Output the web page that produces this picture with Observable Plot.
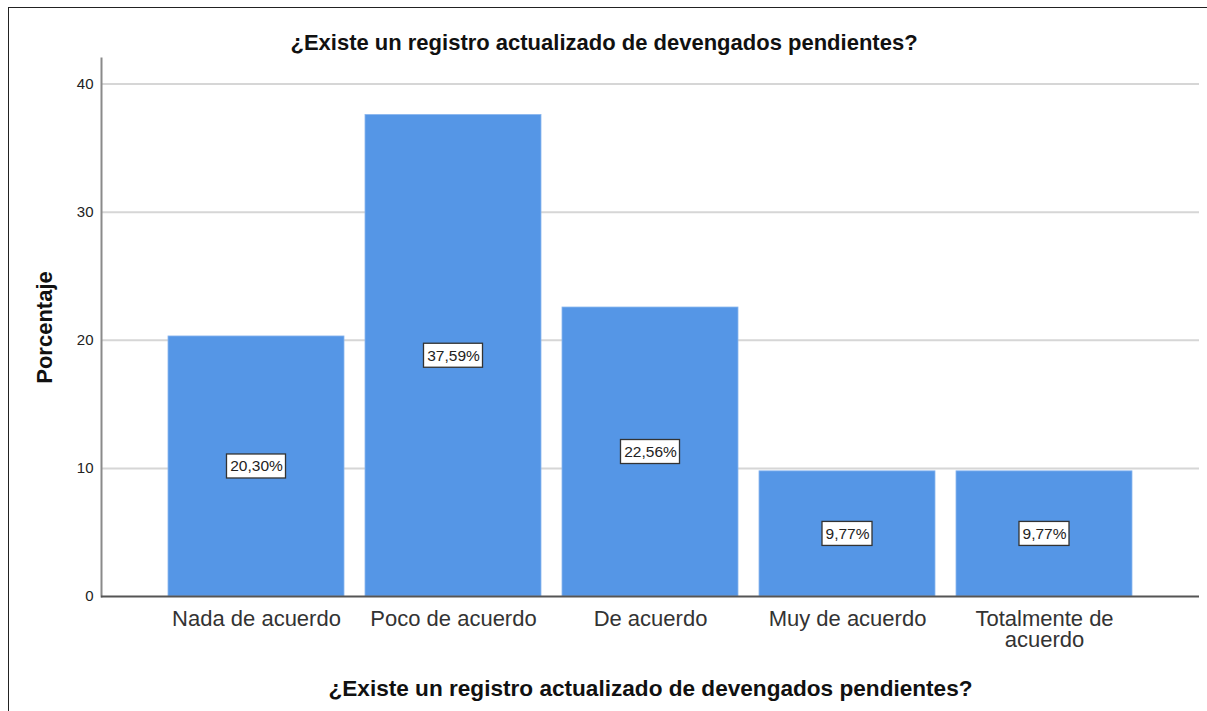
<!DOCTYPE html>
<html>
<head>
<meta charset="utf-8">
<script src="https://cdn.jsdelivr.net/npm/d3@7"></script>
<script src="https://cdn.jsdelivr.net/npm/@observablehq/plot@0.6"></script>
<style>
  html, body { margin: 0; padding: 0; background: #fff; overflow: hidden; }
  #wrap { position: relative; width: 1207px; height: 711px; overflow: hidden; }
  #border { position: absolute; left: 8px; top: 7px; width: 1300px; height: 800px;
            border-left: 1px solid #222; border-top: 1px solid #222; }
  #chart { position: absolute; left: 0; top: 0; }
</style>
</head>
<body>
<div id="wrap"><div id="border"></div><div id="chart"></div></div>
<script>
const chartTitle = "¿Existe un registro actualizado de devengados pendientes?";
const xAxisTitle = "¿Existe un registro actualizado de devengados pendientes?";
const yAxisTitle = "Porcentaje";
const categories = ["Nada de acuerdo", "Poco de acuerdo", "De acuerdo", "Muy de acuerdo", "Totalmente de acuerdo"];
const tickLabels = ["Nada de acuerdo", "Poco de acuerdo", "De acuerdo", "Muy de acuerdo", "Totalmente de\nacuerdo"];
const percentages = [20.30, 37.59, 22.56, 9.77, 9.77];
const valueLabels = ["20,30%", "37,59%", "22,56%", "9,77%", "9,77%"];
const yTicks = [0, 10, 20, 30, 40];

const data = categories.map((c, i) => ({cat: c, v: percentages[i], label: valueLabels[i]}));
const tickMap = new Map(categories.map((c, i) => [c, tickLabels[i]]));
const font = "'Liberation Sans', Arial, sans-serif";

const boxMark = (filterFn, inset) => Plot.barY(data.filter(filterFn), {
  x: "cat", y1: d => d.v / 2, y2: d => d.v / 2,
  insetTop: -12, insetBottom: -12, insetLeft: inset, insetRight: inset,
  fill: "white", stroke: "#333", strokeWidth: 1.3
});

const chart = Plot.plot({
  width: 1207,
  height: 711,
  marginLeft: 101,
  marginRight: 8,
  marginTop: 58,
  marginBottom: 115,
  style: {fontFamily: font, background: "transparent", overflow: "visible"},
  x: {type: "band", domain: categories, paddingInner: 0.106, paddingOuter: 0.326, label: null},
  y: {domain: [0, 42], label: null},
  marks: [
    Plot.gridY(yTicks.filter(t => t > 0), {stroke: "#d6d6d6", strokeOpacity: 1, strokeWidth: 2}),
    Plot.barY(data, {x: "cat", y: "v", fill: "#5596e6", stroke: "#8ab6ee", strokeWidth: 0.8}),
    Plot.frame({anchor: "left", stroke: "#8a8a8a", strokeWidth: 2}),
    Plot.ruleY([0], {stroke: "#555", strokeWidth: 2}),
    Plot.axisY({ticks: yTicks, tickSize: 0, tickPadding: 8, fontSize: 15, color: "#222", label: null}),
    Plot.axisX({tickSize: 0, tickPadding: 14, fontSize: 22, color: "#333", label: null, lineHeight: 0.98,
                tickFormat: d => tickMap.get(d)}),
    boxMark(d => d.label.length >= 6, 58.5),
    boxMark(d => d.label.length < 6, 63),
    Plot.text(data, {x: "cat", y: d => d.v / 2, text: "label", fontSize: 15.5, fill: "#222"}),
    Plot.text([chartTitle], {frameAnchor: "top", textAnchor: "middle", lineAnchor: "middle",
                             dx: -46.5, dy: -16, fontSize: 22, fontWeight: "bold", fill: "#111"}),
    Plot.text([xAxisTitle], {frameAnchor: "bottom", textAnchor: "middle", lineAnchor: "middle",
                             dy: 92, fontSize: 22.6, fontWeight: "bold", fill: "#111"}),
    Plot.text([yAxisTitle], {frameAnchor: "left", textAnchor: "middle", lineAnchor: "middle",
                             dx: -57, rotate: -90, fontSize: 22, fontWeight: "bold", fill: "#111"})
  ]
});
document.getElementById("chart").appendChild(chart);
</script>
</body>
</html>
